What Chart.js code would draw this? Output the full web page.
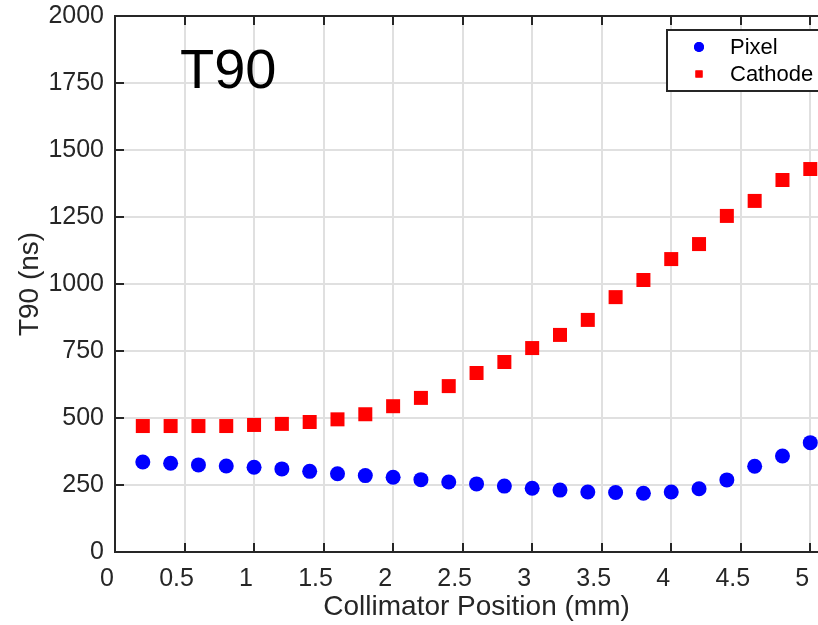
<!DOCTYPE html>
<html>
<head>
<meta charset="utf-8">
<script src="https://cdn.jsdelivr.net/npm/chart.js@4.4.1/dist/chart.umd.min.js"></script>
<style>
  html, body { margin: 0; padding: 0; background: #fff; overflow: hidden; }
  #wrap { width: 900px; height: 625px; }
</style>
</head>
<body>
<div id="wrap">
  <!-- wider than the window: the axes box runs past the right edge, like the original crop.
       chart.js keeps ~11px on the right for the last tick label, hence 848 -->
  <canvas id="chart" width="848" height="625"></canvas>
</div>
<script>
// collimator position (mm)
const POSITIONS = [0.2, 0.4, 0.6, 0.8, 1.0, 1.2, 1.4, 1.6, 1.8, 2.0, 2.2, 2.4, 2.6,
  2.8, 3.0, 3.2, 3.4, 3.6, 3.8, 4.0, 4.2, 4.4, 4.6, 4.8, 5.0]

// T90 (ns)
const PIXEL = [336, 331, 325, 321, 316, 310, 301, 292, 285, 279, 270, 261, 254,
  246, 238, 231, 224, 222, 219, 224, 236, 269, 320, 358, 408]
const CATHODE = [470, 470, 470, 470, 474, 478, 485, 495, 514, 544, 575, 619, 668,
  709, 761, 810, 866, 951, 1015, 1093, 1149, 1254, 1310, 1388, 1429]

const X_RANGE = [0, 5.2]
const X_LAST_TICK = 5
const Y_RANGE = [0, 2000]

const INK = "#262626"
const GRID = "#e0e0e0"
const FONT = "'Liberation Sans', Arial, Helvetica, sans-serif"

const toPoints = (ys) => ys.map((y, i) => ({ x: POSITIONS[i], y: y }))

// matlab-ish box: top edge plus inward tick marks, then the inset title and legend
const boxer = {
  id: "boxer",
  afterDraw: (chart) => {
    const { ctx } = chart
    const { left, right, top, bottom } = chart.chartArea
    const xs = chart.scales.x
    const ys = chart.scales.y
    const tick = 9

    ctx.save()
    ctx.strokeStyle = INK
    ctx.lineWidth = 2

    ctx.beginPath()
    ctx.moveTo(left - 1, top)
    ctx.lineTo(right + 1, top)
    for (const t of xs.ticks) {
      const px = Math.round(xs.getPixelForValue(t.value))
      ctx.moveTo(px, bottom)
      ctx.lineTo(px, bottom - tick)
      ctx.moveTo(px, top)
      ctx.lineTo(px, top + tick)
    }
    for (const t of ys.ticks) {
      const py = Math.round(ys.getPixelForValue(t.value))
      ctx.moveTo(left, py)
      ctx.lineTo(left + tick, py)
    }
    ctx.stroke()

    // inset title
    ctx.fillStyle = "#000"
    ctx.font = `56px ${FONT}`
    ctx.textAlign = "left"
    ctx.textBaseline = "alphabetic"
    ctx.fillText("T90", 180, 88)

    // legend box
    const lx = 667
    const ly = 30
    ctx.fillStyle = "#fff"
    ctx.fillRect(lx, ly, 160, 61)
    ctx.strokeRect(lx, ly, 160, 61)

    ctx.font = `22px ${FONT}`
    ctx.textBaseline = "middle"
    chart.data.datasets.forEach((ds, i) => {
      const cy = 47 + i * 27
      ctx.fillStyle = ds.backgroundColor
      ctx.beginPath()
      Chart.helpers.drawPoint(ctx, {
        pointStyle: ds.pointStyle,
        radius: 5,
        borderWidth: 0,
      }, 699, cy)
      ctx.fill()
      ctx.fillStyle = "#000"
      ctx.fillText(ds.label, 730, cy + 1)
    })

    ctx.restore()
  },
}

const chart = new Chart(document.getElementById("chart"), {
  type: "scatter",
  data: {
    datasets: [
      {
        label: "Pixel",
        data: toPoints(PIXEL),
        pointStyle: "circle",
        pointRadius: 7.5,
        pointBorderWidth: 0,
        backgroundColor: "#0000ff",
        borderColor: "#0000ff",
      },
      {
        label: "Cathode",
        data: toPoints(CATHODE),
        pointStyle: "rect",
        pointRadius: 9.9,
        pointBorderWidth: 0,
        backgroundColor: "#ff0000",
        borderColor: "#ff0000",
      },
    ],
  },
  options: {
    responsive: false,
    animation: false,
    layout: {
      padding: { top: 16, right: 0, bottom: 0, left: 0 },
    },
    plugins: {
      legend: { display: false },
      tooltip: { enabled: false },
    },
    scales: {
      x: {
        type: "linear",
        min: X_RANGE[0],
        max: X_RANGE[1],
        bounds: "data",
        afterBuildTicks: (scale) => {
          scale.ticks = scale.ticks.filter((t) => t.value <= X_LAST_TICK)
        },
        afterFit: (scale) => {
          scale.height = 73
          scale.paddingLeft = 0
          scale.paddingRight = 0
        },
        grid: { color: GRID, lineWidth: 2, drawTicks: false },
        border: { display: true, color: INK, width: 2 },
        ticks: {
          stepSize: 0.5,
          padding: 12,
          labelOffset: -8, // the original's labels sit a little left of their ticks
          color: INK,
          font: { family: FONT, size: 25 },
          maxRotation: 0,
          callback: (v) => String(v),
        },
        title: {
          display: true,
          text: "Collimator Position (mm)",
          color: INK,
          font: { family: FONT, size: 28 },
          padding: { top: 0, bottom: 1 },
        },
      },
      y: {
        min: Y_RANGE[0],
        max: Y_RANGE[1],
        afterFit: (scale) => {
          scale.width = 115
          scale.paddingTop = 0
          scale.paddingBottom = 0
        },
        grid: { color: GRID, lineWidth: 2, drawTicks: false },
        border: { display: true, color: INK, width: 2 },
        ticks: {
          stepSize: 250,
          padding: 11,
          color: INK,
          font: { family: FONT, size: 25 },
          callback: (v) => String(v),
        },
        title: {
          display: true,
          text: "T90 (ns)",
          color: INK,
          font: { family: FONT, size: 28 },
          padding: { top: 13, bottom: 0 },
        },
      },
    },
  },
  plugins: [boxer],
})
</script>
</body>
</html>
